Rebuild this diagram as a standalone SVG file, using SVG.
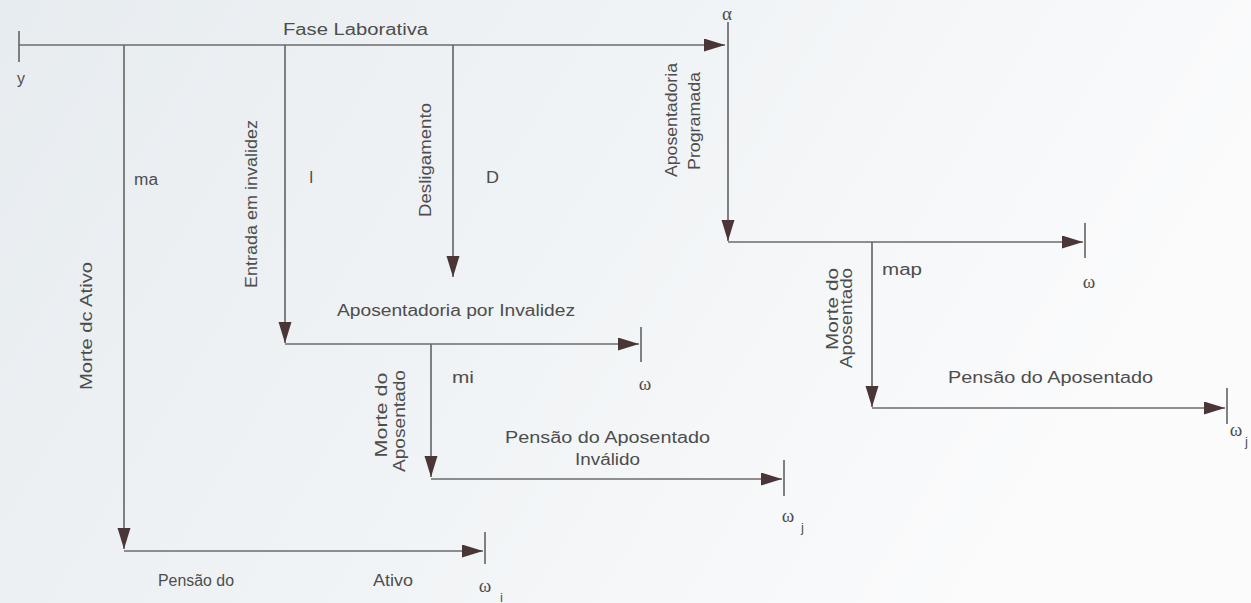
<svg xmlns="http://www.w3.org/2000/svg" width="1251" height="603" viewBox="0 0 1251 603">
  <defs>
    <linearGradient id="bg" x1="0" y1="0" x2="1" y2="0.3">
      <stop offset="0" stop-color="#e7ecf0"/>
      <stop offset="0.55" stop-color="#f1f4f6"/>
      <stop offset="1" stop-color="#fbfbfc"/>
    </linearGradient>
    <marker id="arr" markerUnits="userSpaceOnUse" markerWidth="24" markerHeight="14" refX="21" refY="6.5" orient="auto">
      <path d="M0,0 L21,6.5 L0,13 z" fill="#4a3636"/>
    </marker>
    <style>
      .ln{stroke:#6b6b6b;stroke-width:1.7;fill:none}
      .tk{stroke:#6b6b6b;stroke-width:1.7}
      .t{font-family:"Liberation Sans",Arial,sans-serif;font-size:16px;fill:#4d4d4d}
      .v{font-family:"Liberation Sans",Arial,sans-serif;font-size:16px;fill:#4d4d4d;text-anchor:middle}
      .g{font-family:"Liberation Serif","Times New Roman",serif;font-size:19px;fill:#4d4d4d;text-anchor:middle}
      .s{font-family:"Liberation Sans",Arial,sans-serif;font-size:13px;fill:#4d4d4d}
    </style>
  </defs>
  <rect width="1251" height="603" fill="url(#bg)"/>

  <g id="connectors">
    <line class="tk" x1="19" y1="31" x2="19" y2="62"/>
    <line class="ln" x1="19" y1="45" x2="725" y2="45" marker-end="url(#arr)"/>
    <line class="ln" x1="728" y1="22" x2="728" y2="241" marker-end="url(#arr)"/>
    <line class="ln" x1="728" y1="242" x2="1083" y2="242" marker-end="url(#arr)"/>
    <line class="tk" x1="1085" y1="223" x2="1085" y2="258"/>
    <line class="ln" x1="872" y1="242" x2="872" y2="407" marker-end="url(#arr)"/>
    <line class="ln" x1="872" y1="408" x2="1225" y2="408" marker-end="url(#arr)"/>
    <line class="tk" x1="1227" y1="388" x2="1227" y2="424"/>
    <line class="ln" x1="124" y1="45" x2="124" y2="549" marker-end="url(#arr)"/>
    <line class="ln" x1="124" y1="551" x2="483" y2="551" marker-end="url(#arr)"/>
    <line class="tk" x1="485" y1="532" x2="485" y2="564"/>
    <line class="ln" x1="285" y1="45" x2="285" y2="343" marker-end="url(#arr)"/>
    <line class="ln" x1="285" y1="344" x2="639" y2="344" marker-end="url(#arr)"/>
    <line class="tk" x1="641" y1="327" x2="641" y2="362"/>
    <line class="ln" x1="453" y1="45" x2="453" y2="277" marker-end="url(#arr)"/>
    <line class="ln" x1="431" y1="344" x2="431" y2="477" marker-end="url(#arr)"/>
    <line class="ln" x1="431" y1="479" x2="782" y2="479" marker-end="url(#arr)"/>
    <line class="tk" x1="784" y1="460" x2="784" y2="496"/>
  </g>

  <g id="fase-laborativa">
    <text class="t" x="283" y="35" textLength="145" lengthAdjust="spacingAndGlyphs">Fase Laborativa</text>
    <text class="t" x="17" y="84">y</text>
    <text class="g" x="727" y="20">α</text>
  </g>

  <g id="morte-ativo">
    <text class="v" x="92" y="326" transform="rotate(-90 92 326)" textLength="128" lengthAdjust="spacingAndGlyphs">Morte dc Ativo</text>
    <text class="t" x="134" y="185" textLength="24" lengthAdjust="spacingAndGlyphs">ma</text>
  </g>

  <g id="pensao-ativo">
    <text class="t" x="158" y="586" textLength="76" lengthAdjust="spacingAndGlyphs">Pensão do</text>
    <text class="t" x="373" y="586" textLength="40" lengthAdjust="spacingAndGlyphs">Ativo</text>
    <text class="g" x="485" y="592">ω</text>
    <text class="s" x="500" y="602">i</text>
  </g>

  <g id="entrada-invalidez">
    <text class="v" x="257" y="204" transform="rotate(-90 257 204)" textLength="168" lengthAdjust="spacingAndGlyphs">Entrada em invalidez</text>
    <text class="t" x="309" y="183">I</text>
  </g>

  <g id="desligamento">
    <text class="v" x="431" y="160" transform="rotate(-90 431 160)" textLength="114" lengthAdjust="spacingAndGlyphs">Desligamento</text>
    <text class="t" x="486" y="183" textLength="13" lengthAdjust="spacingAndGlyphs">D</text>
  </g>

  <g id="aposentadoria-invalidez">
    <text class="t" x="337" y="316" textLength="238" lengthAdjust="spacingAndGlyphs">Aposentadoria por Invalidez</text>
    <text class="t" x="452" y="383" textLength="22" lengthAdjust="spacingAndGlyphs">mi</text>
    <text class="g" x="645" y="390">ω</text>
  </g>

  <g id="morte-aposentado-invalido">
    <text class="v" x="387" y="415" transform="rotate(-90 387 415)" textLength="85" lengthAdjust="spacingAndGlyphs">Morte do</text>
    <text class="v" x="405" y="421" transform="rotate(-90 405 421)" textLength="102" lengthAdjust="spacingAndGlyphs">Aposentado</text>
  </g>

  <g id="pensao-aposentado-invalido">
    <text class="t" x="505" y="443" textLength="205" lengthAdjust="spacingAndGlyphs">Pensão do Aposentado</text>
    <text class="t" x="575" y="465" textLength="65" lengthAdjust="spacingAndGlyphs">Inválido</text>
    <text class="g" x="788" y="522">ω</text>
    <text class="s" x="801" y="532">j</text>
  </g>

  <g id="aposentadoria-programada">
    <text class="v" x="677" y="120" transform="rotate(-90 677 120)" textLength="114" lengthAdjust="spacingAndGlyphs">Aposentadoria</text>
    <text class="v" x="700" y="121" transform="rotate(-90 700 121)" textLength="98" lengthAdjust="spacingAndGlyphs">Programada</text>
    <text class="t" x="882" y="275" textLength="40" lengthAdjust="spacingAndGlyphs">map</text>
    <text class="g" x="1089" y="288">ω</text>
  </g>

  <g id="morte-aposentado">
    <text class="v" x="838" y="309" transform="rotate(-90 838 309)" textLength="82" lengthAdjust="spacingAndGlyphs">Morte do</text>
    <text class="v" x="852" y="318" transform="rotate(-90 852 318)" textLength="100" lengthAdjust="spacingAndGlyphs">Aposentado</text>
  </g>

  <g id="pensao-aposentado">
    <text class="t" x="948" y="383" textLength="205" lengthAdjust="spacingAndGlyphs">Pensão do Aposentado</text>
    <text class="g" x="1236" y="436">ω</text>
    <text class="s" x="1245" y="446">j</text>
  </g>
</svg>
